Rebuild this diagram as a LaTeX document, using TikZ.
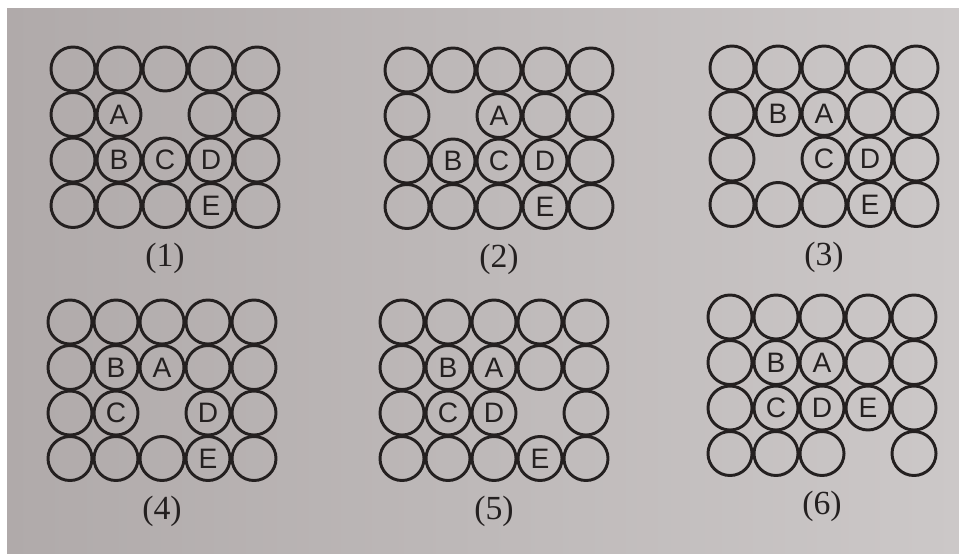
\documentclass[tikz,border=0pt]{standalone}
\usepackage{fontspec}
\setmainfont{Liberation Serif}
\setsansfont{Liberation Sans}
\usepackage{tikz}
\usetikzlibrary{positioning}
\definecolor{pagecol}{RGB}{176,170,170}
\definecolor{pagelight}{RGB}{204,200,200}
\definecolor{inkcol}{RGB}{36,32,32}

\begin{document}
\begin{tikzpicture}[x=0.025cm, y=-0.025cm,
  ball/.style={circle, draw=inkcol, line width=2.1pt, minimum size=1.1cm, inner sep=0pt},
  letter/.style={font=\sffamily\fontsize{20}{22}\selectfont, text=inkcol},
  tag/.style={font=\fontsize{24}{26}\selectfont, text=inkcol}]
  \useasboundingbox (0,0) rectangle (959,553);
  \fill[white] (0,0) rectangle (959,553);
  \shade[left color=pagecol, right color=pagelight] (7,8) rectangle (959,553);
  \foreach \p/\px/\py/\gap/\A/\B/\C/\D/\E in {1/73/69/32/22/23/33/43/44, 2/407/70/22/32/23/33/43/44,
      3/732/68/23/32/22/33/43/44, 4/70/322/33/32/22/23/43/44,
      5/402/322/43/32/22/23/33/44, 6/730/317/44/32/22/23/33/43} {
    \begin{scope}[shift={(\px,\py)}]
      \foreach \c in {1,...,5}
        \foreach \r in {1,...,4} {
          \ifnum\numexpr10*\c+\r\relax=\gap\relax \else
            \node[ball] (p\p-\c\r) at ({46*(\c-1)},{45.5*(\r-1)}) {};
          \fi
        }
      \node[letter] (p\p-A) at (p\p-\A) {A};
      \node[letter] (p\p-B) at (p\p-\B) {B};
      \node[letter] (p\p-C) at (p\p-\C) {C};
      \node[letter] (p\p-D) at (p\p-\D) {D};
      \node[letter] (p\p-E) at (p\p-\E) {E};
      \node[tag, below=0.22cm of p\p-34] (t\p) {(\p)};
    \end{scope}
  }
\end{tikzpicture}
\end{document}
